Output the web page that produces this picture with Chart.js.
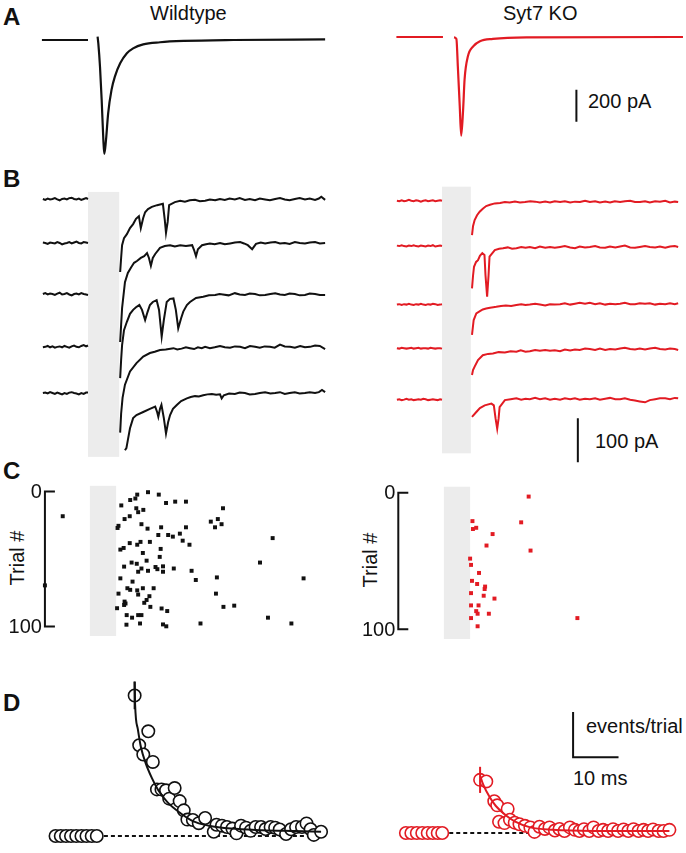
<!DOCTYPE html>
<html>
<head>
<meta charset="utf-8">
<script src="https://cdn.jsdelivr.net/npm/chart.js@4"></script>
<style>
  body { margin: 0; width: 686px; height: 853px; position: relative; overflow: hidden; background: #fff;
         font-family: "Liberation Sans", Arial, sans-serif; color: #111; }
  canvas { position: absolute; }
  .t { position: absolute; font-size: 20px; line-height: 20px; white-space: nowrap; }
  .p { position: absolute; font-size: 24px; line-height: 24px; font-weight: bold; }
  .rot { position: absolute; font-size: 20px; line-height: 20px; white-space: nowrap;
         transform: translate(-50%, -50%) rotate(-90deg); }
</style>
</head>
<body>
<div class="p" style="left:3px;top:5px">A</div>
<div class="p" style="left:3px;top:167px">B</div>
<div class="p" style="left:3px;top:459px">C</div>
<div class="p" style="left:3px;top:691px">D</div>
<div class="t" style="left:150px;top:3px">Wildtype</div>
<div class="t" style="left:503px;top:3px">Syt7 KO</div>
<div class="t" style="left:588px;top:91px">200 pA</div>
<div class="t" style="left:595px;top:431px">100 pA</div>
<div class="t" style="left:586px;top:716px">events/trial</div>
<div class="t" style="left:573px;top:768px">10 ms</div>
<div class="rot" style="left:17px;top:558px">Trial #</div>
<div class="rot" style="left:370px;top:560px">Trial #</div>

<canvas id="aWt" width="296" height="140" style="left:40px;top:25px"></canvas>
<canvas id="aKo" width="292" height="140" style="left:394px;top:22px"></canvas>
<canvas id="bWt" width="296" height="280" style="left:40px;top:185px"></canvas>
<canvas id="bKo" width="292" height="280" style="left:394px;top:185px"></canvas>
<canvas id="cWt" width="336" height="164" style="left:0px;top:478px"></canvas>
<canvas id="cKo" width="332" height="164" style="left:354px;top:478px"></canvas>
<canvas id="dWt" width="296" height="193" style="left:40px;top:660px"></canvas>
<canvas id="dKo" width="292" height="193" style="left:394px;top:657px"></canvas>

<script>
const INK = "#111";
const RED = "#e21b23";
const GREY = "#ececec";

// ---- A: evoked EPSC, [ms, pA]
const aWtPre = [[-9.6, 0], [0, 0]];
const aWtPost = [[2.0, 21], [2.15, -21], [2.5, -167], [2.85, -375], [3.2, -625], [3.4, -712], [3.75, -625],
  [4.2, -458], [4.9, -312], [5.6, -229], [6.7, -146], [8.1, -83], [9.4, -52], [11.5, -27], [15, -14],
  [19.9, -6], [30.3, 0], [49.4, 4]];
const aKoPre = [[-9.5, 0], [0.2, 0]];
const aKoPost = [[2.5, -2], [3.0, -12], [3.3, -184], [3.7, -434], [4.0, -617], [4.4, -454], [4.7, -267],
  [5.4, -121], [6.5, -59], [7.9, -27], [10.6, -12], [17.6, -2], [50.2, 0]];

// ---- B: single trials, [ms, pA] relative to each trial's baseline
const bPreT = [-9.4, -8.9, -8.4, -7.9, -7.4, -6.9, -6.4, -5.9, -5.4, -4.9, -4.4, -3.9, -3.4, -2.9, -2.4,
  -1.9, -1.4, -0.9, -0.4, 0];
const bWtPreV = [
  [0, -2, 1, -1, 0, 2, -1, -3, 0, 1, -1, 2, 3, 0, -1, 1, -2, 0, 2, 0],
  [1, 0, -2, 1, 0, -1, 2, 0, -3, -1, 0, 2, -1, 1, 3, 0, -1, 2, 1, 0],
  [0, 2, -1, 1, 0, -2, 1, 3, -1, 0, 2, -1, -3, 0, 1, -1, 2, 0, -1, -2],
  [-1, 0, 2, -1, 1, -2, 0, 1, -1, 2, 0, -2, 1, 3, 0, -1, 2, 4, 1, 3],
  [0, 1, -1, 2, 0, -2, 1, -1, -3, 0, -2, 1, 2, 0, -1, -3, 0, -2, 1, 1]
];
const bKoPreV = [
  [2, 1, 3, 1, 2, 4, 2, 1, 3, 2, 0, 2, 3, 1, 2, 3, 1, 2, 3, 2],
  [3, 2, 4, 2, 1, 3, 2, 4, 2, 1, 3, 2, 1, 3, 2, 4, 1, 2, 3, 2],
  [-1, 0, -2, 0, -1, 1, -1, -2, 0, -1, 1, -1, -2, 0, -1, 1, 0, -2, -1, 0],
  [2, 1, 3, 2, 1, 2, 3, 1, 2, 3, 1, 2, 2, 1, 3, 2, 1, 2, 2, 1],
  [-1, 0, -2, -1, 1, -1, 0, -2, -1, 0, -1, 1, 0, -2, -1, 0, -1, -2, 0, -1]
];
const bWtPost = [
  [[6.7, -166], [6.9, -134], [7.1, -105], [7.5, -89], [8.1, -80], [8.75, -66], [9.4, -57], [10, -45], [10.6, -39],
   [11.0, -66], [11.5, -43], [11.9, -30], [12.5, -23], [13.3, -18], [14.4, -14], [15.6, -11], [16.0, -48],
   [16.25, -77], [16.6, -52], [16.9, -14], [18.1, -7], [19.2, -4], [20.2, -6], [21.2, -3], [22.3, -2], [23.3, -5],
   [24.4, -4], [25.4, -1], [26.5, -3], [27.5, 0], [28.5, -2], [29.5, 1], [30.6, -1], [31.6, 2], [32.7, -2],
   [33.7, 0], [34.8, -3], [35.8, 1], [36.9, -1], [37.9, -3], [39, 0], [40, 2], [41, -1], [42, -3], [43.1, 0],
   [44.1, 2], [45.2, -1], [46.2, 1], [47.3, -2], [48.1, 1], [48.6, 5], [49.4, -2]],
  [[6.7, -225], [6.9, -186], [7.1, -148], [7.7, -89], [8.3, -68], [9.0, -55], [9.6, -45], [10.2, -41], [11.0, -34],
   [11.7, -30], [12.3, -23], [12.7, -34], [13.1, -52], [13.5, -34], [14.0, -25], [15.0, -11], [16.0, -7], [17.1, -5],
   [18.1, -8], [19.2, -5], [20.4, -7], [21.7, -5], [22.1, -16], [22.5, -30], [22.9, -14], [23.75, -5], [24.6, -3],
   [25.4, -1], [26.4, -3], [27.5, 0], [28.5, -3], [29.6, -1], [30.6, 1], [31.7, 2], [32.5, -1], [33.3, -5],
   [34.2, -14], [35, -2], [36, 1], [36.9, -1], [38, 1], [39, 2], [40, -1], [41, 0], [42, -2], [43.1, 2],
   [44.1, 0], [45.2, -1], [46.2, 1], [47.3, 2], [48.3, -1], [49.4, 0]],
  [[6.7, -191], [6.9, -150], [7.1, -116], [7.5, -82], [8.1, -63], [8.75, -45], [9.4, -36], [10, -30], [10.7, -25],
   [11.25, -36], [11.9, -59], [12.4, -41], [12.9, -25], [13.5, -18], [14.3, -14], [14.8, -36], [15.35, -97],
   [15.8, -59], [16.4, -18], [17.1, -11], [17.8, -10], [18.3, -36], [18.8, -78], [19.4, -55], [19.85, -40],
   [20.6, -25], [21.25, -18], [22.5, -9], [24, -6], [25.2, -3], [26.5, -2], [27.4, 0], [28.1, -1], [29.3, -3],
   [30.6, 2], [31.6, -1], [32.7, -2], [33.7, 1], [34.8, 0], [35.8, -3], [36.9, -2], [38, 0], [39, 2], [40, -1],
   [41, -2], [42, 1], [43.1, 0], [44.1, -3], [45.2, -2], [46.2, 1], [47.3, 0], [48.3, -2], [49.4, -2]],
  [[6.7, -195], [6.9, -152], [7.2, -116], [7.7, -86], [8.75, -56], [10.1, -37], [11.5, -22], [12.9, -14],
   [13.9, -11], [15, -7], [16.2, -6], [17.8, -3], [18.6, -6], [19.5, -4], [20.4, -1], [21.25, -3], [22.1, -5],
   [22.9, -1], [23.7, -3], [24.4, 0], [25.4, -3], [26.4, -1], [27.5, 2], [28.5, -1], [29.6, -2], [30.6, 1],
   [31.7, 0], [32.7, -3], [33.75, 2], [34.8, 0], [35.8, -2], [36.8, 1], [37.9, 0], [38.9, -2], [40, 5], [41, 1],
   [42.1, 0], [43.1, -2], [44.2, 2], [45.2, -1], [46.25, 0], [47.3, 3], [48.3, 2], [49.4, -5]],
  [[7.7, -130], [8.0, -125], [8.3, -107], [8.75, -80], [9.4, -57], [10.1, -50], [11.5, -43], [12.9, -36], [14, -31],
   [14.4, -43], [14.65, -54], [15, -36], [15.3, -27], [15.8, -57], [16.25, -92], [16.7, -66], [17.1, -50],
   [17.7, -36], [18.5, -27], [19.4, -18], [20.6, -12], [21.4, -9], [22.3, -7], [23.1, -8], [24, -5], [24.9, -3],
   [25.8, -2], [26.7, -4], [27.5, -3], [27.85, -12], [28.3, -5], [29.4, -1], [30.6, -2], [31.6, 1], [32.7, 0],
   [33.7, -3], [34.8, -2], [35.8, 0], [36.9, 2], [38, -1], [39, 0], [40, 2], [41, -2], [42, 0], [43.1, 2],
   [44.1, -1], [45.2, 0], [46.2, 2], [47.3, 0], [48.1, 2], [48.75, 7], [49.4, 2]]
];
const bKoPost = [
  [[6.25, -76], [6.46, -56], [6.8, -42], [7.3, -31], [7.85, -23], [8.5, -16], [9.2, -10], [10, -7], [11, -4],
   [12.1, -3], [13.1, -1], [14.1, -2], [15.2, 0], [16.25, -2], [17.3, -1], [18.4, 1], [19.4, 0], [20.4, -2],
   [21.5, 0], [22.5, -2], [23.5, 1], [24.6, -1], [25.6, 1], [26.7, -2], [27.7, 0], [28.75, -1], [29.8, 2],
   [30.8, -1], [31.9, 1], [32.9, -2], [34, 0], [35, -2], [36, 1], [37.1, -1], [38.1, 1], [39.2, 2], [40.2, -1],
   [41.25, -1], [42.3, 1], [43.3, -2], [44.4, 1], [45.4, 0], [46.5, 2], [47.5, -2], [48.5, 0], [49.2, -1]],
  [[6.25, -94], [6.46, -66], [6.67, -45], [7.1, -34], [7.5, -30], [7.9, -20], [8.4, -14], [8.85, -18], [9.06, -64],
   [9.4, -113], [9.7, -64], [9.9, -22], [11, -7], [11.9, -4], [12.7, -3], [13.7, -1], [14.6, -4], [15.5, -3],
   [16.5, 0], [17.4, -2], [18.3, 0], [19.4, -3], [20.4, 1], [21.5, -2], [22.5, 0], [23.5, -2], [24.6, 0],
   [25.6, 2], [26.7, -1], [27.7, -3], [28.7, 1], [29.8, -1], [30.8, 0], [31.9, 2], [32.9, -1], [34, -2], [35, 1],
   [36.1, -1], [37.1, 1], [38.1, 3], [39.2, -1], [40.2, -2], [41.2, 0], [42.3, 2], [43.3, 0], [44.4, -1],
   [45.4, 1], [46.5, -2], [47.5, 1], [48.5, 2], [49.2, 0]],
  [[6.25, -70], [6.6, -36], [7.15, -21], [7.9, -16], [8.5, -12], [9.2, -10], [10, -8], [10.7, -7], [11.3, -6],
   [12.3, -4], [13.3, -3], [14.4, -4], [15.5, -2], [16.5, 0], [17.4, -2], [18.3, -1], [19.4, 1], [20.4, -1],
   [21.5, -3], [22.5, 0], [23.5, -1], [24.6, 0], [25.6, 2], [26.7, -1], [27.7, 1], [28.7, 3], [29.8, 1],
   [30.8, 3], [31.9, 0], [32.9, 2], [34, -1], [35, 1], [36.1, 0], [37.1, 1], [38.1, 3], [39.2, 0], [40.2, 0],
   [41.2, 2], [42.3, 1], [43.3, 2], [44.4, -1], [45.4, 1], [46.5, 0], [47.5, 2], [48.5, 0], [49.2, 2]],
  [[6.25, -59], [6.46, -48], [6.8, -40], [7.5, -25], [8.5, -14], [9.6, -11], [10.6, -10], [11.8, -7], [13.1, -8],
   [14.3, -5], [15.5, -6], [16.4, -3], [17.4, -6], [18.3, -5], [19.4, -2], [20.4, -4], [21.5, -2], [22.5, -4],
   [23.5, -3], [24.6, -5], [25.6, -1], [26.7, -3], [27.7, -1], [28.7, -2], [29.8, 1], [30.8, 0], [31.9, -2],
   [32.9, 1], [34, -2], [35, 0], [36.1, -1], [37.1, 1], [38.1, 3], [39.2, 0], [40.2, -1], [41.2, 1], [42.3, -1],
   [43.3, 1], [44.4, 3], [45.4, 0], [46.5, -1], [47.5, 1], [48.5, 0], [49.2, -2]],
  [[6.25, -40], [7.15, -29], [7.9, -20], [8.9, -14], [10.3, -10], [10.8, -14], [11.15, -43], [11.5, -67], [11.8, -43],
   [12.0, -18], [13.1, -2], [14.3, 0], [15.5, 2], [16.5, -1], [17.4, 1], [18.3, 0], [19.4, 3], [20.4, 0],
   [21.5, 2], [22.5, -1], [23.5, 1], [24.6, -1], [25.6, 2], [26.7, 0], [27.7, 2], [28.7, -1], [29.8, 1],
   [30.8, 0], [31.9, 2], [32.9, -1], [34, 1], [35, 3], [36.1, 0], [37.1, 0], [38.1, 2], [39.2, -1],
   [40.2, -3], [41.2, -5], [42.3, -7], [43.3, -2], [44.4, 0], [45.4, 2], [46.5, 2], [47.5, 0], [48.5, 3], [49.2, 2]]
];

// ---- C: raster of release events, [ms, trial #]
const trialTicks = [0, 100];
const cWt = [[12.4, 0.5], [14.7, 2.3], [10.1, 2.3], [8.6, 6.3], [9.7, 5.2], [16.25, 8.5], [18.2, 7.5], [20.5, 7.5],
  [6.7, 10.3], [9.9, 12.4], [10.3, 15.3], [11.4, 13.6], [28.4, 12.4], [8.5, 18.3], [7.4, 20.4], [25.8, 22.3],
  [27.3, 20.4], [26.7, 26.5], [28.1, 24.2], [6.1, 25.4], [11.0, 24.2], [12.3, 27.5], [15.2, 26.5], [20.5, 26.5],
  [5.9, 27.0], [16.7, 32.2], [14.6, 32.2], [17.7, 33.4], [19.2, 31.2], [19.8, 36.4], [21.25, 39.4], [39.0, 34.5],
  [8.5, 38.2], [10.1, 39.4], [10.8, 37.3], [12.8, 37.3], [15.1, 42.5], [6.5, 43.0], [7.2, 41.8], [11.3, 45.5],
  [14.9, 48.4], [12.1, 51.2], [8.9, 52.6], [10.0, 53.5], [7.3, 55.6], [11.0, 57.0], [10.3, 59.4], [12.4, 58.7],
  [14.0, 55.9], [14.4, 57.5], [15.6, 55.4], [15.6, 59.4], [17.9, 57.0], [21.7, 58.7], [36.3, 52.6], [22.6, 65.5],
  [27.1, 63.6], [6.5, 64.3], [9.1, 66.7], [45.6, 64.3], [8.0, 71.6], [8.6, 72.8], [10.1, 73.2], [11.3, 71.6],
  [13.6, 71.6], [6.1, 75.6], [10.3, 76.3], [12.7, 77.5], [26.9, 75.6], [12.1, 80.3], [11.6, 82.4], [7.4, 81.5],
  [7.3, 84.0], [7.6, 82.9], [12.9, 85.4], [15.3, 86.6], [16.5, 88.5], [28.5, 85.4], [30.8, 84.5], [5.8, 86.4],
  [7.85, 91.5], [9.0, 93.4], [10.3, 91.5], [11.0, 91.5], [7.8, 98.6], [10.7, 97.7], [15.6, 98.4], [16.3, 99.8],
  [23.6, 97.7], [38.0, 93.4], [43.0, 97.7], [-5.8, 18.3], [-9.6, 69.5]];
const cKo = [[18.1, 2.8], [6.1, 20.8], [6.2, 26.6], [6.9, 25.7], [16.5, 21.7], [10.4, 30.3], [9.1, 38.7],
  [18.5, 42.4], [5.6, 48.3], [5.8, 52.9], [7.5, 58.8], [6.0, 64.6], [7.1, 66.9], [8.8, 68.8], [8.7, 70.6],
  [5.8, 73.6], [8.5, 75.5], [10.8, 77.6], [5.8, 82.6], [7.4, 82.6], [6.9, 86.8], [7.2, 88.7], [9.6, 88.7],
  [5.8, 91.9], [28.5, 91.9], [7.2, 97.9]];

// ---- D: event rate per bin, [ms, events/trial]
const dWtPre = [[-8.3, 0], [-7.15, 0], [-6.0, 0], [-4.9, 0], [-3.75, 0], [-2.6, 0], [-1.5, 0], [-0.35, 0], [0.77, 0]];
const dWtPost = [[9.1, 0.0624], [10.1, 0.0403], [11.0, 0.0362], [12.1, 0.0465], [13.1, 0.0329], [14.0, 0.0207],
  [15.0, 0.0207], [16.0, 0.0203], [16.7, 0.0166], [17.9, 0.0213], [19.0, 0.0155], [19.9, 0.0114], [20.7, 0.0073],
  [21.9, 0.0071], [23.2, 0.0057], [24.6, 0.0080], [26.5, 0.0019], [27.1, 0.0050], [28.3, 0.0046], [29.4, 0.0040],
  [30.6, 0.0033], [31.5, 0.0012], [32.5, 0.0046], [33.6, 0.0037], [34.6, 0.0023], [35.7, 0.0040], [36.9, 0.0040],
  [37.9, 0.0031], [39.0, 0.0040], [40.0, 0.0037], [41.0, 0.0029], [42.4, 0.0009], [43.5, 0.0030], [44.6, 0.0040],
  [45.9, 0.0040], [46.9, 0.0056], [47.8, 0.0030], [48.5, 0.0005], [50.1, 0.0019]];
const dWtFit = [[9.1, 0.0686], [9.2, 0.0584], [9.8, 0.0475], [10.5, 0.0393], [11.5, 0.0325], [12.9, 0.0257],
  [14.3, 0.0203], [16.4, 0.0148], [19.2, 0.0101], [21.9, 0.0066], [25.4, 0.0046], [30.3, 0.0033], [37.2, 0.0026],
  [44.2, 0.0022], [50.1, 0.0019]];
const dWtErr = [9.1, 0.0624, 0.0061];
const dKoPre = [[-9.1, 0], [-7.9, 0], [-6.7, 0], [-5.5, 0], [-4.3, 0], [-3.2, 0], [-2.1, 0], [-1.1, 0]];
const dKoPost = [[7.23, 0.0236], [8.6, 0.0229], [10.35, 0.0141], [11.0, 0.0123], [11.4, 0.0050], [12.6, 0.0044],
  [13.3, 0.0107], [13.8, 0.0059], [14.85, 0.0046], [15.9, 0.0039], [17.1, 0.0032], [18.3, 0.0025], [19.2, 0.0005],
  [20.3, 0.0028], [21.5, 0.0018], [22.5, 0.0025], [23.7, 0.0011], [24.7, 0.0018], [25.8, 0.0009], [27.0, 0.0025],
  [28.1, 0.0014], [29.1, 0.0009], [30.1, 0.0017], [31.25, 0.0009], [32.2, 0.0025], [33.3, 0.0009], [34.3, 0.0014],
  [35.4, 0.0009], [36.5, 0.0017], [37.6, 0.0009], [38.8, 0.0016], [39.85, 0.0009], [41.0, 0.0017], [42.1, 0.0009],
  [43.2, 0.0014], [44.2, 0.0009], [45.3, 0.0016], [46.5, 0.0009], [47.6, 0.0009], [48.9, 0.0014]];
const dKoFit = [[7.3, 0.0251], [7.9, 0.0216], [9.3, 0.0161], [10.7, 0.0120], [12.8, 0.0080], [14.85, 0.0052],
  [18.3, 0.0025], [23.2, 0.0014], [32.2, 0.0009], [48.9, 0.0009]];
const dKoErr = [7.23, 0.0236, 0.0058];

// layout bits (placement of the stacked trials, blanking window, scale bars)
const rowWt = [0, -100, -216, -336, -441];
const rowKo = [-6, -109, -239, -341, -455];

const pts = arr => arr.map(([x, y]) => ({ x, y }));
const shift = (arr, dy) => arr.map(([x, y]) => [x, y + dy]);
const line = (arr, color, width, extra) => Object.assign({
  data: pts(arr), showLine: true, borderColor: color, borderWidth: width,
  pointRadius: 0, clip: false, tension: 0
}, extra || {});

const band = {
  id: "band",
  beforeDatasetsDraw(chart, args, o) {
    if (!o.x) return;
    const { ctx, scales: { x, y } } = chart;
    const l = x.getPixelForValue(o.x[0]), r = x.getPixelForValue(o.x[1]);
    const t = y.getPixelForValue(o.y[0]), b = y.getPixelForValue(o.y[1]);
    ctx.save();
    ctx.fillStyle = GREY;
    ctx.fillRect(l, Math.min(t, b), r - l, Math.abs(b - t));
    ctx.restore();
  }
};

const trialAxis = {
  id: "trialAxis",
  afterDatasetsDraw(chart, args, o) {
    if (o.at == null) return;
    const { ctx, scales: { x, y } } = chart;
    const px = x.getPixelForValue(o.at);
    const y0 = y.getPixelForValue(trialTicks[0]);
    const y1 = y.getPixelForValue(trialTicks[trialTicks.length - 1]);
    ctx.save();
    ctx.strokeStyle = INK;
    ctx.lineWidth = 2;
    ctx.beginPath();
    ctx.moveTo(px + 10, y0);
    ctx.lineTo(px, y0);
    ctx.lineTo(px, y1);
    ctx.lineTo(px + 10, y1);
    ctx.stroke();
    ctx.fillStyle = INK;
    ctx.font = '20px "Liberation Sans", Arial, sans-serif';
    ctx.textAlign = "right";
    ctx.textBaseline = "middle";
    trialTicks.forEach(v => ctx.fillText(String(v), px - 3, y.getPixelForValue(v) + 1));
    ctx.restore();
  }
};

function opts(xr, yr, extra, rev) {
  return {
    responsive: false, animation: false, events: [],
    layout: { padding: 0 },
    plugins: Object.assign({ legend: { display: false }, tooltip: { enabled: false } }, extra || {}),
    scales: {
      x: { type: "linear", display: false, min: xr[0], max: xr[1] },
      y: { type: "linear", display: false, min: yr[0], max: yr[1], reverse: !!rev }
    }
  };
}

const xWt = [-10, 51.667], xKo = [-10, 50.833];
const smooth = { cubicInterpolationMode: "monotone" };

// A
new Chart(document.getElementById("aWt"), {
  type: "scatter",
  data: { datasets: [line(aWtPre, INK, 2), line(aWtPost, INK, 2.2, smooth)] },
  options: opts(xWt, [-781.25, 93.75])
});
new Chart(document.getElementById("aKo"), {
  type: "scatter",
  data: { datasets: [line(aKoPre, RED, 2), line(aKoPost, RED, 2.2, smooth),
    line([[28, -330], [28, -530]], INK, 2)] },
  options: opts(xKo, [-781.25, 93.75])
});

// B
function traces(pre, post, rows, color) {
  const out = [];
  rows.forEach((dy, i) => {
    out.push(line(shift(bPreT.map((t, k) => [t, pre[i][k]]), dy), color, 2));
    out.push(line(shift(post[i], dy), color, 2));
  });
  return out;
}
new Chart(document.getElementById("bWt"), {
  type: "scatter",
  data: { datasets: traces(bWtPreV, bWtPost, rowWt, INK) },
  options: opts(xWt, [-604.5, 31.8], { band: { x: [0, 6.5], y: [16, -586] } }),
  plugins: [band]
});
new Chart(document.getElementById("bKo"), {
  type: "scatter",
  data: { datasets: traces(bKoPreV, bKoPost, rowKo, RED).concat([line([[28.3, -498], [28.3, -598]], INK, 2)]) },
  options: opts(xKo, [-604.5, 31.8], { band: { x: [0, 6.0], y: [28, -578] } }),
  plugins: [band]
});

// C
const dots = (arr, color) => ({
  data: pts(arr), pointStyle: "rect", pointRadius: 2.8, pointBackgroundColor: color,
  pointBorderWidth: 0, borderWidth: 0, clip: false
});
new Chart(document.getElementById("cWt"), {
  type: "scatter",
  data: { datasets: [dots(cWt, INK)] },
  options: opts([-18.333, 51.667], [-7.04, 108.45],
    { band: { x: [0, 5.6], y: [-4.2, 107] }, trialAxis: { at: -9.6 } }, true),
  plugins: [band, trialAxis]
});
new Chart(document.getElementById("cKo"), {
  type: "scatter",
  data: { datasets: [dots(cKo, RED)] },
  options: opts([-18.333, 50.833], [-7.88, 106.5],
    { band: { x: [0, 5.6], y: [-4.4, 107.2] }, trialAxis: { at: -9.73 } }, true),
  plugins: [band, trialAxis]
});

// D
const circles = (arr, color) => ({
  data: pts(arr), pointStyle: "circle", pointRadius: 6.2, pointBackgroundColor: "#fff",
  pointBorderColor: color, pointBorderWidth: 1.6, clip: false
});
function rateSets(pre, post, fit, err, color, baseFrom, baseTo) {
  return [
    line(fit, color, 2, smooth),
    line([[err[0], err[1] - err[2]], [err[0], err[1] + err[2]]], color, 2),
    circles(post, color),
    circles(pre, color),
    line([[baseFrom, 0], [baseTo, 0]], INK, 2, { borderDash: [4, 3] })
  ];
}
new Chart(document.getElementById("dWt"), {
  type: "scatter",
  data: { datasets: rateSets(dWtPre, dWtPost, dWtFit, dWtErr, INK, 0.8, 50.1) },
  options: opts(xWt, [-0.00408, 0.0747])
});
new Chart(document.getElementById("dKo"), {
  type: "scatter",
  data: { datasets: [
    line([[27.7, 0.0537], [27.7, 0.0337], [37.7, 0.0337]], INK, 2)
  ].concat(rateSets(dKoPre, dKoPost, dKoFit, dKoErr, RED, -1.1, 48.9)) },
  options: opts(xKo, [-0.00408, 0.0747])
});
</script>
</body>
</html>
